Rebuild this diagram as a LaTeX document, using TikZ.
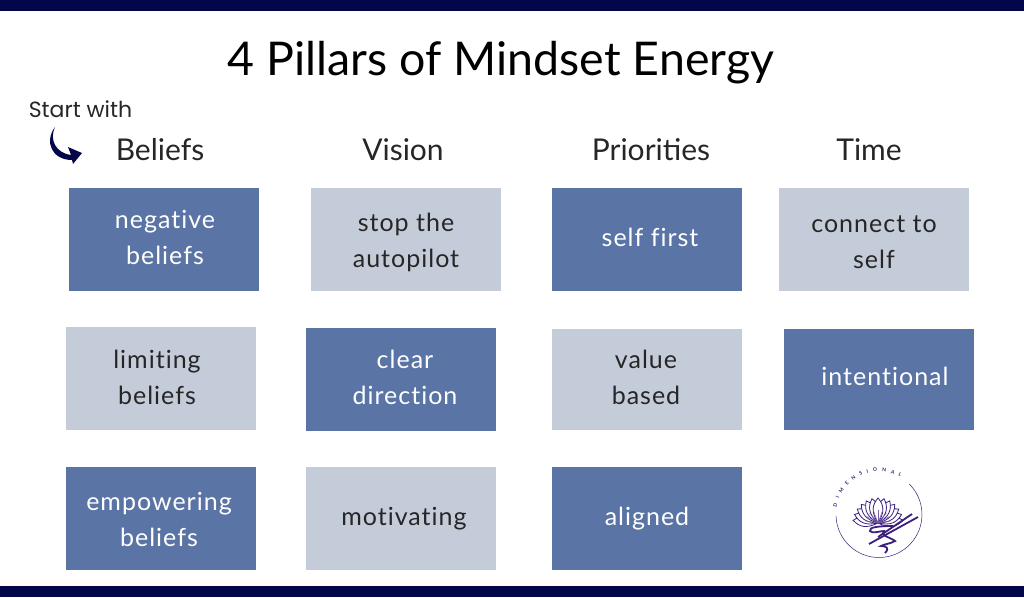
\documentclass[tikz,border=0pt]{standalone}
\usepackage{fontspec}
\setmainfont{Lato}
\newfontfamily\startfont{Poppins}
\newfontfamily\wordfont[LetterSpace=4,Ligatures=NoCommon]{Lato}
\usetikzlibrary{decorations.text}
\definecolor{navy}{HTML}{04064A}
\definecolor{pillardark}{HTML}{5A74A5}
\definecolor{pillarlight}{HTML}{C5CCD9}
\definecolor{logo}{HTML}{3B1E7E}
\begin{document}
\begin{tikzpicture}[x=1pt,y=-1pt]
      \tikzset{dark/.style = {shape=rectangle,fill=pillardark,minimum width=190pt,minimum height=103pt,inner sep=0pt}}
      \tikzset{light/.style = {dark,fill=pillarlight}}
      \tikzset{head/.style = {text=black!85,font=\fontsize{30}{30}\selectfont}}
      \tikzset{word/.style = {font=\fontsize{25}{36}\wordfont,align=center}}
      \tikzset{onlight/.style = {word,text=black!85}}
      \tikzset{ondark/.style = {word,text=white}}
      \useasboundingbox (0,0) rectangle (1024,597);
      \fill[white] (0,0) rectangle (1024,597);
      \fill[navy] (0,0) rectangle (1024,11);
      \fill[navy] (0,586) rectangle (1024,597);

      \node[text=black,font=\fontsize{46.5}{46.5}\selectfont] (title) at (501,63) {4 Pillars of Mindset Energy};
      \node[text=black!85,font=\fontsize{22}{22}\startfont] (start) at (80.5,109) {Start with};

      \node[head] (beliefs) at (160,150) {Beliefs};
      \node[head] (vision) at (403,150) {Vision};
      \node[head] (priorities) at (651,150) {Priorities};
      \node[head] (time) at (869,150) {Time};

      % curved arrow
      \fill[navy] (55,127) .. controls (49,140) and (56,153) .. (71,155)
        -- (68,147) -- (82,153) -- (73,164) -- (72,160)
        .. controls (52,160) and (44,142) .. (55,127) -- cycle;

      \node[dark] (b1) at (164,239.5) {};
      \node[light] (b2) at (161,378.5) {};
      \node[dark] (b3) at (161,518.5) {};
      \node[light] (v1) at (406,239.5) {};
      \node[dark] (v2) at (401,379.5) {};
      \node[light] (v3) at (401,518.5) {};
      \node[dark] (p1) at (647,239.5) {};
      \node[light,minimum height=101pt] (p2) at (647,379.5) {};
      \node[dark] (p3) at (647,518.5) {};
      \node[light] (t1) at (874,239.5) {};
      \node[dark,minimum height=101pt] (t2) at (879,379.5) {};

      \node[ondark] (b1t) at (165,237) {negative\\beliefs};
      \node[onlight] (b2t) at (157,377) {limiting\\beliefs};
      \node[ondark] (b3t) at (159,519) {empowering\\beliefs};
      \node[onlight] (v1t) at (406,242) {stop the\\autopilot};
      \node[ondark] (v2t) at (405,377.5) {clear\\direction};
      \node[onlight] (v3t) at (404,519) {motivating};
      \node[ondark] (p1t) at (650,237) {self first};
      \node[onlight] (p2t) at (646,377.5) {value\\based};
      \node[ondark] (p3t) at (647,519) {aligned};
      \node[onlight] (t1t) at (874,242) {connect to\\self};
      \node[ondark] (t2t) at (885,376) {intentional};

      % logo
      \draw[logo,line width=0.5pt] (836,516) arc (178:-45:43);
      \path[decorate,decoration={text along path,text={|\fontsize{5}{5}\bfseries\color{logo}|DIMENSIONAL},text align={fit to path}}]
        (836.6,507) arc (190:300:43);
      \foreach \a in {-84,84,-70,70,-56,56,-42,42,-28,28,-14,14,0}
        \draw[logo,fill=white,line width=0.8pt,rotate around={\a:(878,523)}]
          (878,523) .. controls (871,512) and (872,505) .. (878,498) .. controls (884,505) and (885,512) .. (878,523);
      \foreach \a in {-80,-60,-40,-20,0,20,40,60,80}
        \draw[logo!70,line width=0.5pt,rotate around={\a:(878,523)}] (878,523) -- (878,510);
      \draw[logo,line width=1.8pt] (918,517) -- (869,544);
      \draw[logo,line width=1.8pt] (912,514) -- (878,537);
      \draw[logo,line width=1.8pt] (893,526) .. controls (880,526) and (868,527) .. (870,531)
        .. controls (872,534) and (880,531) .. (884,531) .. controls (880,536) and (892,538) .. (895,541)
        .. controls (890,544) and (884,544) .. (881,546) .. controls (886,546) and (890,548) .. (885,553);
\end{tikzpicture}
\end{document}
